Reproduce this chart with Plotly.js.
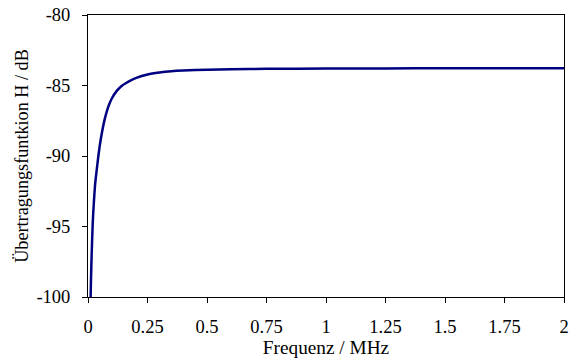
<!DOCTYPE html>
<html>
<head>
<meta charset="utf-8">
<script src="https://cdn.plot.ly/plotly-3.0.1.min.js"></script>
<style>html,body{margin:0;padding:0;background:#fff;}#chart{width:570px;height:361px;}</style>
</head>
<body>
<div id="chart"></div>
<script>
const freqMHz = [0.011, 0.0125, 0.015, 0.02, 0.025, 0.03, 0.04, 0.05, 0.06, 0.07, 0.08, 0.09, 0.1, 0.12, 0.14, 0.16, 0.18, 0.2, 0.25, 0.3, 0.35, 0.4, 0.5, 0.6, 0.75, 1.0, 1.25, 1.5, 1.75, 2.0];
const H_dB = [-100.0, -98.8, -97.2, -94.7, -93.2, -92.0, -90.5, -89.2, -88.21, -87.40, -86.78, -86.30, -85.92, -85.40, -85.05, -84.82, -84.63, -84.48, -84.22, -84.08, -83.99, -83.94, -83.88, -83.85, -83.82, -83.80, -83.79, -83.78, -83.78, -83.78];
const xTicks = [0, 0.25, 0.5, 0.75, 1, 1.25, 1.5, 1.75, 2];
const xTickText = ["0", "0.25", "0.5", "0.75", "1", "1.25", "1.5", "1.75", "2"];
const yTicks = [-100, -95, -90, -85, -80];
const yTickText = ["-100", "-95", "-90", "-85", "-80"];

function mkFont(sz) { return {family: '"Liberation Serif", "Times New Roman", serif', size: sz || 18.5, color: "#000000"}; }

Plotly.newPlot("chart", [{
  x: freqMHz, y: H_dB, type: "scatter", mode: "lines",
  line: {color: "#000080", width: 2.5, shape: "spline", smoothing: 0.6},
  hoverinfo: "skip"
}], {
  width: 570, height: 361,
  margin: {l: 88, r: 6, t: 15, b: 64},
  paper_bgcolor: "#fff", plot_bgcolor: "#fff",
  showlegend: false,
  xaxis: {
    range: [0, 2], tickvals: xTicks, ticktext: xTickText,
    ticks: "outside", ticklen: 5, tickcolor: "#000", tickwidth: 1,
    showline: true, linecolor: "#000", linewidth: 1, mirror: true,
    showgrid: false, zeroline: false,
    tickfont: mkFont(18.5), ticklabelstandoff: 8,
    title: {text: "Frequenz / MHz", font: mkFont(19.3), standoff: 3}
  },
  yaxis: {
    range: [-100, -80], tickvals: yTicks, ticktext: yTickText,
    ticks: "outside", ticklen: 5, tickcolor: "#000", tickwidth: 1,
    showline: true, linecolor: "#000", linewidth: 1, mirror: true,
    showgrid: false, zeroline: false,
    tickfont: mkFont(18.5), ticklabelstandoff: 8,
    title: {text: "Übertragungsfuntkion H / dB", font: mkFont(18.2), standoff: 3}
  }
}, {staticPlot: true, displayModeBar: false});
</script>
</body>
</html>
